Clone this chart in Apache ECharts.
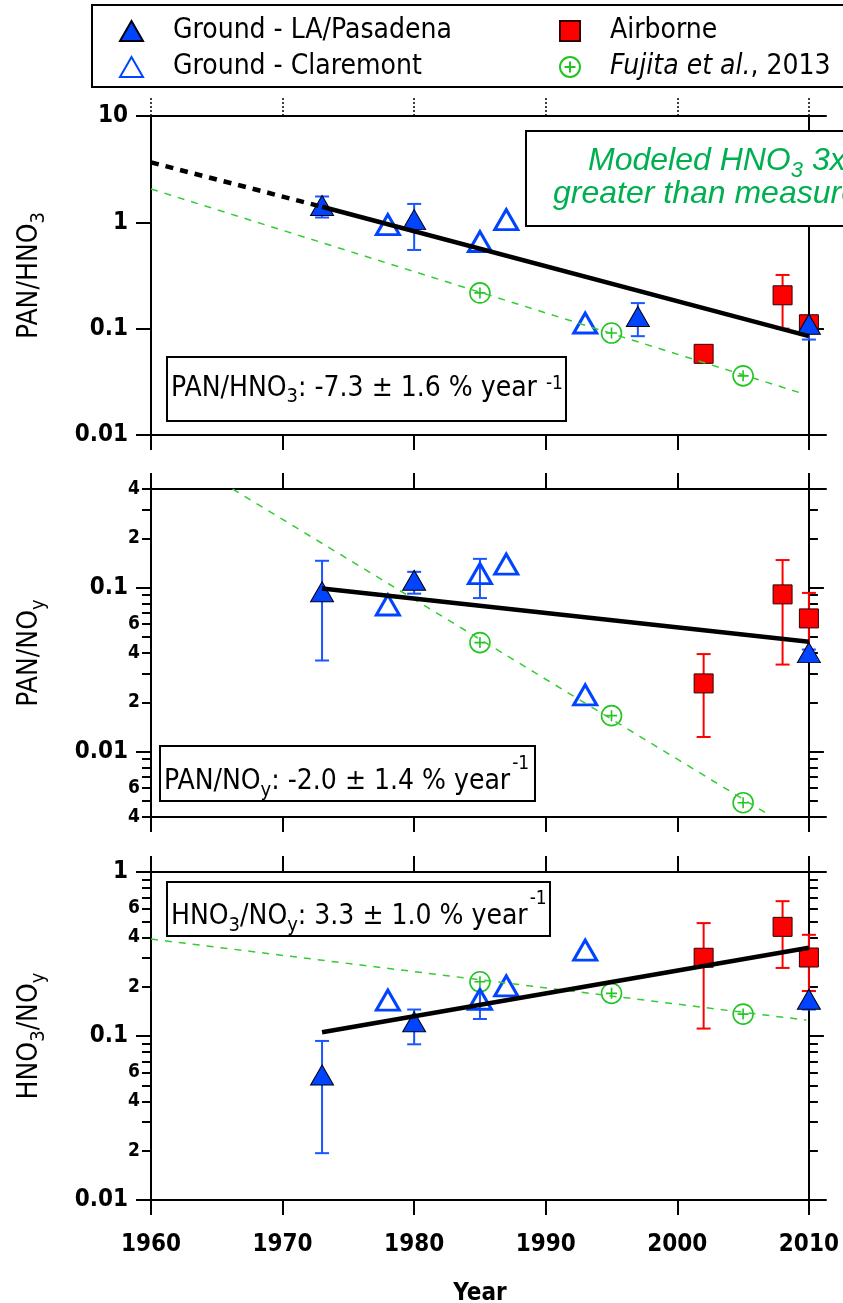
<!DOCTYPE html>
<html lang="en">
<head>
  <meta charset="UTF-8">
  <title>PAN/HNO3, PAN/NOy, HNO3/NOy trends</title>
  <style>
    html, body { margin: 0; padding: 0; background: #fff; }
    #chart { width: 843px; height: 1303px; }
  </style>
</head>
<body>
  <div id="chart"></div>
  <script src="https://cdn.jsdelivr.net/npm/echarts@6/dist/echarts.min.js"></script>
  <script>
    // ---------- data ----------
    var xTicks = [1960, 1970, 1980, 1990, 2000, 2010];
    var fujitaYears = [1985, 1995, 2005];
    var airYears = [2002, 2008, 2010];

    // panel 1 : PAN/HNO3
    var p1LaYears = [1973, 1980, 1997, 2010];
    var p1LaVals = [1.44, 1.06, 0.13, 0.11];
    var p1LaLow = [1.11, 0.55, 0.085, 0.079];
    var p1LaHigh = [1.75, 1.49, 0.174, 0.125];
    var p1ClYears = [1978, 1985, 1987, 1993];
    var p1ClVals = [0.95, 0.66, 1.06, 0.113];
    var p1AirVals = [0.058, 0.206, 0.11];
    var p1AirLow = [0.058, 0.10, 0.095];
    var p1AirHigh = [0.058, 0.32, 0.125];
    var p1FujVals = [0.217, 0.091, 0.036];
    var p1FitYears = [1973, 2010];
    var p1FitVals = [1.40, 0.085];
    var p1ExtYears = [1960, 1973];
    var p1ExtVals = [3.66, 1.40];
    var p1FujLineYears = [1960, 2009.4];
    var p1FujLineVals = [2.06, 0.0248];

    // panel 2 : PAN/NOy
    var p2LaYears = [1973, 1980, 2010];
    var p2LaVals = [0.0945, 0.111, 0.0402];
    var p2LaLow = [0.036, 0.092, 0.038];
    var p2LaHigh = [0.146, 0.125, 0.042];
    var p2ClYears = [1978, 1985, 1987, 1993];
    var p2ClVals = [0.0785, 0.122, 0.1395, 0.0222];
    var p2ClErrYears = [1985];
    var p2ClLow = [0.0865];
    var p2ClHigh = [0.15];
    var p2AirVals = [0.0261, 0.0911, 0.065];
    var p2AirLow = [0.0123, 0.034, 0.0373];
    var p2AirHigh = [0.0394, 0.1475, 0.093];
    var p2FujVals = [0.0463, 0.0166, 0.00489];
    var p2FitYears = [1973, 2010];
    var p2FitVals = [0.099, 0.0469];
    var p2FujLineYears = [1966.2, 2006.8];
    var p2FujLineVals = [0.4, 0.0042];

    // panel 3 : HNO3/NOy
    var p3LaYears = [1973, 1980, 2010];
    var p3LaVals = [0.0579, 0.122, 0.1675];
    var p3LaLow = [0.0193, 0.089, 0.145];
    var p3LaHigh = [0.0933, 0.145, 0.188];
    var p3ClYears = [1978, 1985, 1987, 1993];
    var p3ClVals = [0.1656, 0.1675, 0.202, 0.334];
    var p3ClErrYears = [1985];
    var p3ClLow = [0.127];
    var p3ClHigh = [0.21];
    var p3AirVals = [0.30, 0.463, 0.301];
    var p3AirLow = [0.111, 0.26, 0.188];
    var p3AirHigh = [0.488, 0.664, 0.414];
    var p3FujVals = [0.214, 0.182, 0.136];
    var p3FitYears = [1973, 2010];
    var p3FitVals = [0.1054, 0.345];
    var p3FujLineYears = [1960, 2009.8];
    var p3FujLineVals = [0.39, 0.125];

    // log axis ticks
    var p1Major = [0.01, 0.1, 1, 10];
    var p2Major = [0.01, 0.1];
    var p2Minor = [0.004, 0.005, 0.006, 0.007, 0.008, 0.009, 0.02, 0.03, 0.04, 0.05, 0.06, 0.07, 0.08, 0.09, 0.2, 0.3, 0.4];
    var p2MinorLabels = [0.004, 0.006, 0.02, 0.04, 0.06, 0.2, 0.4];
    var p3Major = [0.01, 0.1, 1];
    var p3Minor = [0.02, 0.03, 0.04, 0.05, 0.06, 0.07, 0.08, 0.09, 0.2, 0.3, 0.4, 0.5, 0.6, 0.7, 0.8, 0.9];
    var p3MinorLabels = [0.02, 0.04, 0.06, 0.2, 0.4, 0.6];

    // ---------- styling ----------
    var F = '"DejaVu Sans Condensed", "DejaVu Sans", sans-serif';
    var FA = '"Liberation Sans", Arial, sans-serif';
    var BLUE = '#0044ff';
    var RED = '#ff0000';
    var GREEN = '#22c422';
    var X_MAX = 2011.3;
    var rightOffset = -(X_MAX - 2010) * 675 / (X_MAX - 1960);
    var fujitaSymbol = 'path://M10,0A10,10,0,1,1,10,20A10,10,0,1,1,10,0ZM10,4.5V15.5M4.5,10H15.5';

    function pairs(xs, ys) {
      return xs.map(function (x, i) { return [x, ys[i]]; });
    }
    function bars(xs, lo, hi) {
      return xs.map(function (x, i) { return [x, lo[i], hi[i]]; });
    }

    function errRender(color) {
      return function (params, api) {
        var x = api.value(0);
        var a = api.coord([x, api.value(1)]);
        var b = api.coord([x, api.value(2)]);
        var w = 7;
        var st = { stroke: color, lineWidth: 2 };
        return {
          type: 'group',
          children: [
            { type: 'line', shape: { x1: a[0], y1: a[1], x2: b[0], y2: b[1] }, style: st },
            { type: 'line', shape: { x1: a[0] - w, y1: a[1], x2: a[0] + w, y2: a[1] }, style: st },
            { type: 'line', shape: { x1: b[0] - w, y1: b[1], x2: b[0] + w, y2: b[1] }, style: st }
          ]
        };
      };
    }

    function xAxes(g, showLabels, dottedTop) {
      var line = { onZero: false, lineStyle: { color: '#000', width: 2 } };
      return [
        {
          type: 'value', gridIndex: g, position: 'bottom', min: 1960, max: X_MAX,
          axisLine: line, splitLine: { show: false },
          axisTick: { length: 15, customValues: xTicks, lineStyle: { color: '#000', width: 2 } },
          axisLabel: {
            show: showLabels, customValues: xTicks, margin: 33,
            fontFamily: F, fontWeight: 'bold', fontSize: 24, color: '#000',
            formatter: function (v) { return String(v); }
          },
          name: showLabels ? 'Year' : '',
          nameLocation: 'middle', nameGap: 82,
          nameTextStyle: { fontFamily: F, fontWeight: 'bold', fontSize: 24, color: '#000', padding: [0, 17, 0, 0] }
        },
        {
          type: 'value', gridIndex: g, position: 'top', min: 1960, max: X_MAX,
          axisLine: line, splitLine: { show: false },
          axisTick: {
            length: dottedTop ? 20 : 16, customValues: xTicks,
            lineStyle: { color: '#000', width: dottedTop ? 1.5 : 2, type: dottedTop ? [2, 2] : 'solid' }
          },
          axisLabel: { show: false, customValues: xTicks }
        }
      ];
    }

    // sub/superscripts: top-aligned tokens pushed down with a top padding
    function nameRich() {
      return {
        a: { fontFamily: F, fontSize: 28, color: '#000', lineHeight: 34 },
        s: { fontFamily: F, fontSize: 20, color: '#000', lineHeight: 14, verticalAlign: 'top', padding: [16, 0, 0, 0] }
      };
    }

    function yAxes(g, min, max, major, minor, minorLabels, name, nameGap) {
      var base = { type: 'log', logBase: 10, gridIndex: g, min: min, max: max, splitLine: { show: false } };
      var list = [];
      list.push(Object.assign({}, base, {
        position: 'left',
        axisLine: { show: true, onZero: false, lineStyle: { color: '#000', width: 2 } },
        axisTick: { length: 15, customValues: major, lineStyle: { color: '#000', width: 2 } },
        axisLabel: {
          customValues: major, margin: 23, fontFamily: F, fontWeight: 'bold', fontSize: 24, color: '#000',
          formatter: function (v) { return String(v); }
        },
        name: name, nameLocation: 'middle', nameRotate: 90, nameGap: nameGap,
        nameTextStyle: { rich: nameRich() }
      }));
      if (minor) {
        list.push(Object.assign({}, base, {
          position: 'left',
          axisLine: { show: false },
          axisTick: { length: 9, customValues: minor, lineStyle: { color: '#000', width: 2 } },
          axisLabel: {
            customValues: minorLabels, margin: 11, fontFamily: F, fontWeight: 'bold', fontSize: 19, color: '#000',
            formatter: function (v) {
              return String(Math.round(v / Math.pow(10, Math.floor(Math.log10(v) + 1e-9))));
            }
          }
        }));
      }
      list.push(Object.assign({}, base, {
        position: 'right', offset: rightOffset,
        axisLine: { show: true, onZero: false, lineStyle: { color: '#000', width: 2 } },
        axisTick: { length: 15, customValues: major, lineStyle: { color: '#000', width: 2 } },
        axisLabel: { show: false }
      }));
      if (minor) {
        list.push(Object.assign({}, base, {
          position: 'right', offset: rightOffset,
          axisLine: { show: false },
          axisTick: { length: 9, customValues: minor, lineStyle: { color: '#000', width: 2 } },
          axisLabel: { show: false }
        }));
      }
      return list;
    }

    function fitLine(xi, yi, xs, ys, color, width, type) {
      return {
        type: 'line', xAxisIndex: xi, yAxisIndex: yi, data: pairs(xs, ys),
        symbol: 'none', silent: true, clip: true,
        lineStyle: { color: color, width: width, type: type }
      };
    }

    function errSeries(xi, yi, data, color) {
      return {
        type: 'custom', xAxisIndex: xi, yAxisIndex: yi, silent: true,
        renderItem: errRender(color), encode: { x: 0, y: [1, 2] }, data: data
      };
    }

    function markerSeries(xi, yi) {
      return {
        fujita: function (ys) {
          return {
            name: 'Fujita et al., 2013', type: 'scatter', xAxisIndex: xi, yAxisIndex: yi,
            data: pairs(fujitaYears, ys), symbol: fujitaSymbol, symbolSize: 20,
            itemStyle: { color: '#fff', borderColor: GREEN, borderWidth: 1.6, opacity: 1 }
          };
        },
        air: function (ys) {
          return {
            name: 'Airborne', type: 'scatter', xAxisIndex: xi, yAxisIndex: yi,
            data: pairs(airYears, ys), symbol: 'rect', symbolSize: 19,
            itemStyle: { color: RED, borderColor: '#300', borderWidth: 1, opacity: 1 }
          };
        },
        cl: function (xs, ys) {
          return {
            name: 'Ground - Claremont', type: 'scatter', xAxisIndex: xi, yAxisIndex: yi,
            data: pairs(xs, ys), symbol: 'triangle', symbolSize: [23, 20],
            itemStyle: { color: 'rgba(255,255,255,0)', borderColor: BLUE, borderWidth: 3, opacity: 1 }
          };
        },
        la: function (xs, ys) {
          return {
            name: 'Ground - LA/Pasadena', type: 'scatter', xAxisIndex: xi, yAxisIndex: yi,
            data: pairs(xs, ys), symbol: 'triangle', symbolSize: [23, 20],
            itemStyle: { color: BLUE, borderColor: '#001', borderWidth: 1, opacity: 1 }
          };
        }
      };
    }

    // L: main line height; subTop / supTop: top padding that places the small tokens
    function annotRich(L, subTop, supTop, gap) {
      return {
        a: { fontFamily: F, fontSize: 28, fontWeight: 'normal', color: '#000', lineHeight: L },
        s: { fontFamily: F, fontSize: 20, fontWeight: 'normal', color: '#000', lineHeight: 12, verticalAlign: 'top', padding: [subTop, 0, 0, 0] },
        u: { fontFamily: F, fontSize: 19, fontWeight: 'normal', color: '#000', lineHeight: 12, verticalAlign: 'top', padding: [supTop, 0, 0, gap] }
      };
    }

    function annot(left, top, text, rich, pad) {
      return {
        left: left, top: top, text: text, padding: pad,
        borderColor: '#000', borderWidth: 2, backgroundColor: '#fff',
        textStyle: { fontWeight: 'normal', rich: rich }
      };
    }

    var m1 = markerSeries(0, 0);
    var m2 = markerSeries(2, 2);
    var m3 = markerSeries(4, 6);

    var series = [
      // panel 1
      fitLine(0, 0, p1FujLineYears, p1FujLineVals, '#33cc33', 1.5, [7, 7]),
      fitLine(0, 0, p1ExtYears, p1ExtVals, '#000', 4.5, [8, 7]),
      fitLine(0, 0, p1FitYears, p1FitVals, '#000', 4.5, 'solid'),
      errSeries(0, 0, bars(p1LaYears, p1LaLow, p1LaHigh), '#1a55ff'),
      errSeries(0, 0, bars(airYears, p1AirLow, p1AirHigh), RED),
      m1.fujita(p1FujVals), m1.air(p1AirVals), m1.cl(p1ClYears, p1ClVals), m1.la(p1LaYears, p1LaVals),
      // panel 2
      fitLine(2, 2, p2FujLineYears, p2FujLineVals, '#33cc33', 1.5, [7, 7]),
      fitLine(2, 2, p2FitYears, p2FitVals, '#000', 4.5, 'solid'),
      errSeries(2, 2, bars(p2LaYears, p2LaLow, p2LaHigh), '#1a55ff'),
      errSeries(2, 2, bars(p2ClErrYears, p2ClLow, p2ClHigh), '#1a55ff'),
      errSeries(2, 2, bars(airYears, p2AirLow, p2AirHigh), RED),
      m2.fujita(p2FujVals), m2.air(p2AirVals), m2.cl(p2ClYears, p2ClVals), m2.la(p2LaYears, p2LaVals),
      // panel 3
      fitLine(4, 6, p3FujLineYears, p3FujLineVals, '#33cc33', 1.5, [7, 7]),
      fitLine(4, 6, p3FitYears, p3FitVals, '#000', 4.5, 'solid'),
      errSeries(4, 6, bars(p3LaYears, p3LaLow, p3LaHigh), '#1a55ff'),
      errSeries(4, 6, bars(p3ClErrYears, p3ClLow, p3ClHigh), '#1a55ff'),
      errSeries(4, 6, bars(airYears, p3AirLow, p3AirHigh), RED),
      m3.fujita(p3FujVals), m3.air(p3AirVals), m3.cl(p3ClYears, p3ClVals), m3.la(p3LaYears, p3LaVals)
    ];

    var legendText = { fontFamily: F, fontSize: 28, fontWeight: 'normal', color: '#000', padding: [0, 0, 0, 25] };

    var option = {
      animation: false,
      backgroundColor: '#fff',
      grid: [
        { left: 151, right: 17, top: 116, height: 319, outerBoundsMode: 'none' },
        { left: 151, right: 17, top: 489, height: 328, outerBoundsMode: 'none' },
        { left: 151, right: 17, top: 872, height: 328, outerBoundsMode: 'none' }
      ],
      xAxis: [].concat(xAxes(0, false, true), xAxes(1, false, false), xAxes(2, true, false)),
      yAxis: [].concat(
        yAxes(0, 0.01, 10, p1Major, null, null, '{a|PAN/HNO}{s|3}', 104),
        yAxes(1, 0.004, 0.4, p2Major, p2Minor, p2MinorLabels, '{a|PAN/NO}{s|y}', 104),
        yAxes(2, 0.01, 1, p3Major, p3Minor, p3MinorLabels, '{a|HNO}{s|3}{a|/NO}{s|y}', 104)
      ),
      legend: [
        {
          orient: 'vertical', left: 119, top: 17, padding: 0, itemGap: 8,
          itemWidth: 23, itemHeight: 20, selectedMode: false,
          data: ['Ground - LA/Pasadena', 'Ground - Claremont'],
          textStyle: legendText
        },
        {
          orient: 'vertical', left: 559, top: 17, padding: 0, itemGap: 8,
          itemWidth: 20, itemHeight: 20, selectedMode: false,
          data: [
            { name: 'Airborne', icon: 'path://M0,0H10V10H0Z' },
            'Fujita et al., 2013'
          ],
          formatter: function (name) {
            return name === 'Fujita et al., 2013' ? '{i|Fujita et al.}{n|, 2013}' : '{n|' + name + '}';
          },
          textStyle: Object.assign({}, legendText, {
            rich: {
              i: { fontFamily: F, fontSize: 28, fontStyle: 'italic', color: '#000' },
              n: { fontFamily: F, fontSize: 28, color: '#000' }
            }
          })
        }
      ],
      title: [
        annot(167, 357, '{a|PAN/HNO}{s|3}{a|: -7.3 ± 1.6 % year}{u|-1}', annotRich(44, 20, 8, 9), [10, 3, 14, 4]),
        annot(160, 746, '{a|PAN/NO}{s|y}{a|: -2.0 ± 1.4 % year}{u|-1}', annotRich(54, 26, 0, 2), [9, 6, 0, 4]),
        annot(167, 882, '{a|HNO}{s|3}{a|/NO}{s|y}{a|: 3.3 ± 1.0 % year}{u|-1}', annotRich(54, 26, 0, 2), [8, 4, 0, 4]),
        {
          left: 526, top: 131, padding: [14, 60, 16, 27],
          borderColor: '#000', borderWidth: 2, backgroundColor: '#fff',
          text: '{g1|Modeled HNO}{gs|3}{g| 3x}\n{g|greater than measured}',
          textStyle: {
            fontWeight: 'normal',
            rich: {
              g1: { fontFamily: FA, fontSize: 32, fontStyle: 'italic', fontWeight: 'normal', color: '#00b050', lineHeight: 33, padding: [0, 0, 0, 35] },
              g: { fontFamily: FA, fontSize: 32, fontStyle: 'italic', fontWeight: 'normal', color: '#00b050', lineHeight: 33 },
              gs: { fontFamily: FA, fontSize: 22, fontStyle: 'italic', fontWeight: 'normal', color: '#00b050', lineHeight: 12, verticalAlign: 'top', padding: [15, 0, 0, 0] }
            }
          }
        }
      ],
      graphic: [
        {
          type: 'rect', shape: { x: 92, y: 5, width: 780, height: 82 },
          style: { fill: 'none', stroke: '#000', lineWidth: 2 }
        }
      ],
      series: series
    };

    var chart = echarts.init(document.getElementById('chart'));
    chart.setOption(option);
  </script>
</body>
</html>
